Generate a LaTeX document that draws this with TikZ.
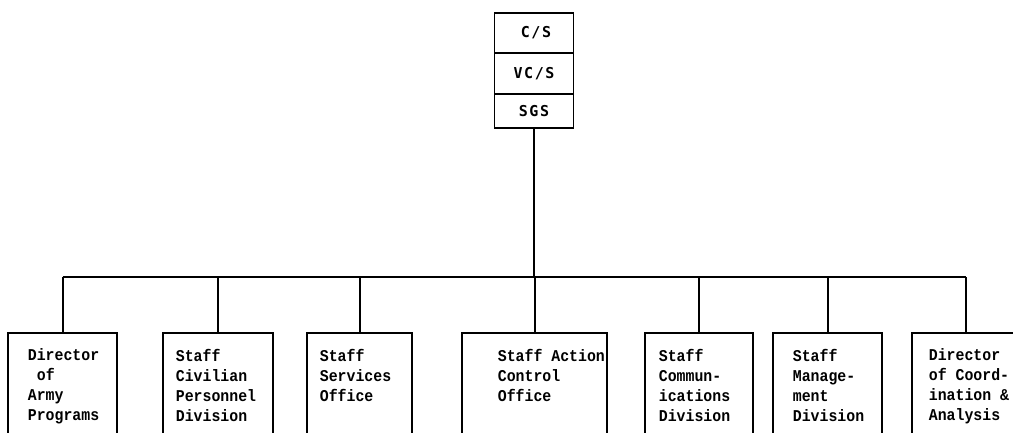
\documentclass[tikz,border=0pt]{standalone}
\usepackage{fontspec}
\newfontfamily\boxfont[FakeStretch=0.9]{Liberation Mono}
\newfontfamily\topfont[LetterSpace=10]{DejaVu Sans Mono}
\begin{document}
\begin{tikzpicture}[x=1pt,y=-1pt,
  line width=1.8pt,
  unitbox/.style={draw, line width=1.7pt, minimum width=79pt, inner sep=0pt, outer sep=0pt, anchor=north,
    font=\topfont\bfseries\fontsize{15}{17}\selectfont},
  orgbox/.style={draw, line width=1.8pt, anchor=north west, inner sep=0pt, outer sep=0pt, minimum height=130pt},
  openbox/.style={anchor=north west, inner sep=0pt, outer sep=0pt, minimum height=130pt},
  lbl/.style={anchor=north west, align=left, inner sep=0pt,
    font=\boxfont\bfseries\fontsize{16.5}{20}\selectfont},
  link/.style={line width=2pt}]
\useasboundingbox (0,0) rectangle (1013,433);
\begin{scope}
\clip (0,0) rectangle (1013,433);
% top stack
\node[unitbox, minimum height=40pt] (cs) at (534,13) {\hspace*{4pt}C/S};
\node[unitbox, minimum height=41pt] (vcs) at (cs.south) {VC/S};
\node[unitbox, minimum height=34pt] (sgs) at (vcs.south) {SGS};
% boxes
\node[orgbox, minimum width=109pt] (b1) at (8,333) {};
\node[orgbox, minimum width=110pt] (b2) at (163,333) {};
\node[orgbox, minimum width=105pt] (b3) at (307,333) {};
\node[orgbox, minimum width=145pt] (b4) at (462,333) {};
\node[orgbox, minimum width=108pt] (b5) at (645,333) {};
\node[orgbox, minimum width=109pt] (b6) at (773,333) {};
\node[openbox, minimum width=108pt] (b7) at (912,333) {};
\draw[line width=1.8pt] (b7.south west) -- (b7.north west) -- (b7.north east);
\coordinate (b7top) at ([xshift=54pt]b7.north west);
% labels
\node[lbl] (t1) at (27,348) {Director\\\hspace*{9pt}of\\Army\\Programs};
\node[lbl] (t2) at (175,348) {Staff\\Civilian\\Personnel\\Division};
\node[lbl] (t3) at (319,348) {Staff\\Services\\Office};
\node[lbl] (t4) at (497,348) {Staff Action\\Control\\Office};
\node[lbl] (t5) at (658,348) {Staff\\Commun-\\ications\\Division};
\node[lbl] (t6) at (792,348) {Staff\\Manage-\\ment\\Division};
\node[lbl] (t7) at (928,348) {Director\\of Coord-\\ination \&\\Analysis};
% bus
\coordinate (bus) at (534,277);
\draw[link] (sgs.south) -- (sgs.south |- bus);
\draw[link] (b1.north |- bus) -- (b7top |- bus);
\foreach \b in {b1,b2,b3,b4,b5,b6}
  \draw[link] (\b.north) -- (\b.north |- bus);
\draw[link] (b7top) -- (b7top |- bus);
\end{scope}
\end{tikzpicture}
\end{document}
